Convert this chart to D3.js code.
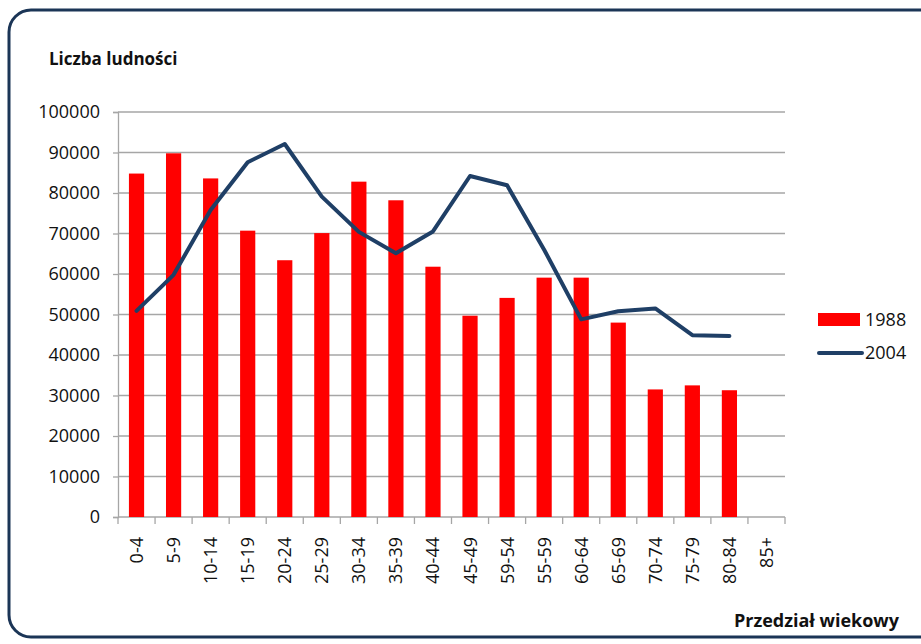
<!DOCTYPE html>
<html>
<head>
<meta charset="utf-8">
<script src="https://cdn.jsdelivr.net/npm/d3@7"></script>
<style>
  body { margin: 0; background: #fff; }
  text { font-family: "Open Sans", "Noto Sans", sans-serif; fill: #111; }
</style>
</head>
<body>
<div id="chart"></div>
<script>
(function () {

  // Data

  var ageGroups = ["0-4", "5-9", "10-14", "15-19", "20-24", "25-29", "30-34", "35-39", "40-44",
    "45-49", "59-54", "55-59", "60-64", "65-69", "70-74", "75-79", "80-84", "85+"]

  var values1988 = [84800, 89800, 83600, 70700, 63400, 70100, 82800, 78200, 61800,
    49700, 54100, 59100, 59100, 48000, 31500, 32500, 31300, null]

  var values2004 = [50900, 59800, 75800, 87600, 92100, 79100, 70400, 65100, 70500,
    84200, 81900, 66000, 48800, 50800, 51500, 44900, 44700, null]

  var yTicks = [0, 10000, 20000, 30000, 40000, 50000, 60000, 70000, 80000, 90000, 100000]

  var seriesNames = ["1988", "2004"]

  // SVG

  var width = 921,
      height = 644

  var plot = { left: 118, right: 785, top: 112, bottom: 517 }

  var svg = d3.select("#chart").append("svg")
      .attr("width", width)
      .attr("height", height)

  // Frame

  svg.append("rect")
    .attr("x", 9)
    .attr("y", 10)
    .attr("width", 940)
    .attr("height", 627)
    .attr("rx", 22)
    .attr("fill", "none")
    .attr("stroke", "#1b3556")
    .attr("stroke-width", 3)

  // Scales

  var xScale = d3.scaleBand()
    .domain(ageGroups)
    .range([plot.left, plot.right])
    .paddingInner(0.59)
    .paddingOuter(0.295)

  var yScale = d3.scaleLinear()
    .domain([0, 100000])
    .range([plot.bottom, plot.top])

  // Gridlines

  svg.selectAll(".grid")
    .data(yTicks.slice(1))
    .enter().append("line")
    .attr("class", "grid")
    .attr("x1", plot.left)
    .attr("x2", plot.right)
    .attr("y1", function(d){ return yScale(d) })
    .attr("y2", function(d){ return yScale(d) })
    .attr("stroke", "#a6a6a6")
    .attr("stroke-width", 1.3)

  // Y axis

  var yAxis = d3.axisLeft(yScale)
    .tickValues(yTicks)
    .tickSize(5)
    .tickPadding(13)
    .tickFormat(d3.format("d"))

  var gy = svg.append("g")
    .attr("transform", "translate(" + plot.left + ",0)")
    .call(yAxis)

  gy.select(".domain").attr("stroke", "#a6a6a6").attr("stroke-width", 1.3)
  gy.selectAll(".tick line").attr("stroke", "#a6a6a6").attr("stroke-width", 1.3)
  gy.selectAll(".tick text")
    .attr("font-size", 18)
    .attr("font-family", "Open Sans")
    .attr("fill", "#111")

  // X axis (ticks between categories)

  svg.append("line")
    .attr("x1", plot.left)
    .attr("x2", plot.right)
    .attr("y1", plot.bottom)
    .attr("y2", plot.bottom)
    .attr("stroke", "#a6a6a6")
    .attr("stroke-width", 1.3)

  var step = xScale.step()

  svg.selectAll(".xtick")
    .data(d3.range(ageGroups.length + 1))
    .enter().append("line")
    .attr("class", "xtick")
    .attr("x1", function(i){ return plot.left + i * step })
    .attr("x2", function(i){ return plot.left + i * step })
    .attr("y1", plot.bottom)
    .attr("y2", plot.bottom + 7)
    .attr("stroke", "#a6a6a6")
    .attr("stroke-width", 1.3)

  svg.selectAll(".xlabel")
    .data(ageGroups)
    .enter().append("text")
    .attr("class", "xlabel")
    .attr("transform", function(d){
      var cx = xScale(d) + xScale.bandwidth() / 2
      return "translate(" + (cx + 6.5) + "," + (plot.bottom + 20) + ") rotate(-90)"
    })
    .attr("text-anchor", "end")
    .attr("font-size", 18)
    .text(function(d){ return d })

  // Bars 1988

  svg.selectAll(".bar")
    .data(ageGroups.filter(function(d, i){ return values1988[i] != null }))
    .enter().append("rect")
    .attr("class", "bar")
    .attr("x", function(d){ return xScale(d) })
    .attr("width", xScale.bandwidth())
    .attr("y", function(d){ return yScale(values1988[ageGroups.indexOf(d)]) })
    .attr("height", function(d){ return plot.bottom - yScale(values1988[ageGroups.indexOf(d)]) })
    .attr("fill", "#ff0000")

  // Line 2004

  var line = d3.line()
    .defined(function(d){ return d.value != null })
    .x(function(d){ return xScale(d.group) + xScale.bandwidth() / 2 })
    .y(function(d){ return yScale(d.value) })

  var lineData = ageGroups.map(function(g, i){ return { group: g, value: values2004[i] } })

  svg.append("path")
    .datum(lineData)
    .attr("d", line)
    .attr("fill", "none")
    .attr("stroke", "#1f3f66")
    .attr("stroke-width", 4)
    .attr("stroke-linejoin", "round")
    .attr("stroke-linecap", "round")

  // Titles

  svg.append("text")
    .attr("x", 49)
    .attr("y", 65)
    .attr("font-size", 17)
    .attr("font-weight", "bold")
    .text("Liczba ludności")

  svg.append("text")
    .attr("x", 899)
    .attr("y", 627)
    .attr("text-anchor", "end")
    .attr("font-size", 18)
    .attr("font-weight", "bold")
    .text("Przedział wiekowy")

  // Legend

  var legend = svg.append("g")
    .attr("transform", "translate(818,313)")

  legend.append("rect")
    .attr("x", 0)
    .attr("y", 0)
    .attr("width", 42)
    .attr("height", 13)
    .attr("fill", "#ff0000")

  legend.append("line")
    .attr("x1", 1)
    .attr("x2", 44)
    .attr("y1", 40)
    .attr("y2", 40)
    .attr("stroke", "#1f3f66")
    .attr("stroke-width", 4)
    .attr("stroke-linecap", "round")

  legend.selectAll(".legend-text")
    .data(seriesNames)
    .enter().append("text")
    .attr("class", "legend-text")
    .attr("x", 47)
    .attr("y", function(d, i){ return 13 + i * 33 })
    .attr("font-size", 18)
    .text(function(d){ return d })

})()
</script>
</body>
</html>
